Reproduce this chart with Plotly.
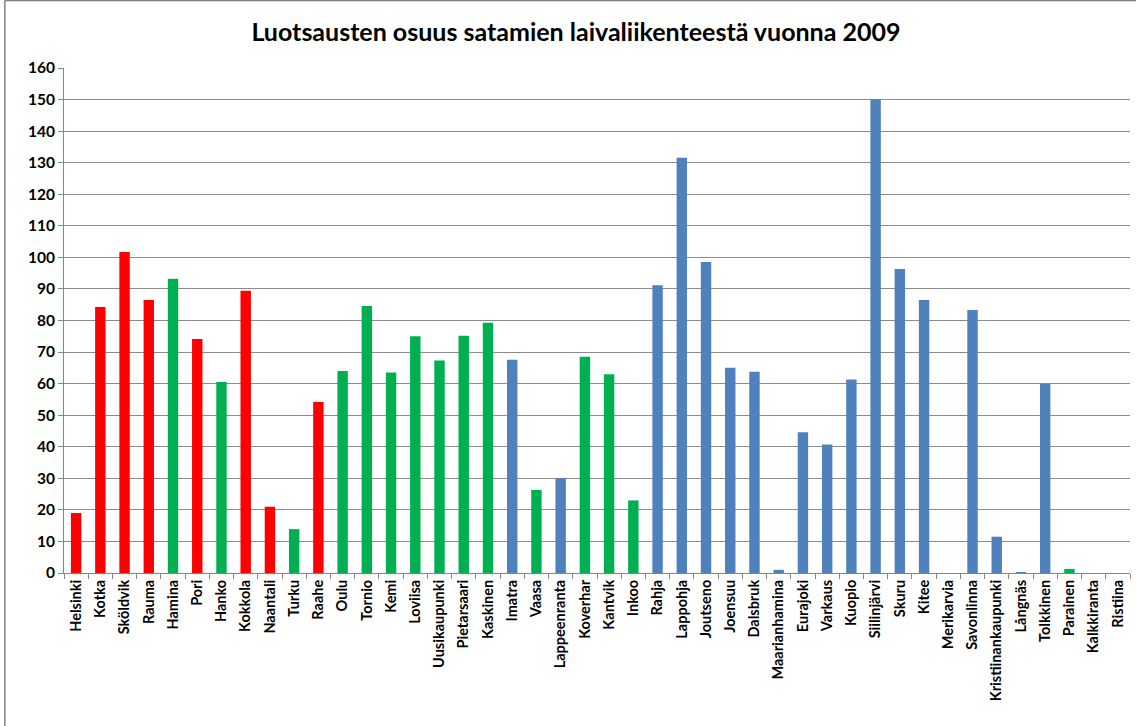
import plotly.graph_objects as go

# Satamat ja luotsausten osuus laivaliikenteestä (%)
satamat = [
    "Helsinki", "Kotka", "Sköldvik", "Rauma", "Hamina", "Pori", "Hanko", "Kokkola",
    "Naantali", "Turku", "Raahe", "Oulu", "Tornio", "Kemi", "Loviisa", "Uusikaupunki",
    "Pietarsaari", "Kaskinen", "Imatra", "Vaasa", "Lappeenranta", "Koverhar", "Kantvik",
    "Inkoo", "Rahja", "Lappohja", "Joutseno", "Joensuu", "Dalsbruk", "Maarianhamina",
    "Eurajoki", "Varkaus", "Kuopio", "Siilinjärvi", "Skuru", "Kitee", "Merikarvia",
    "Savonlinna", "Kristiinankaupunki", "Långnäs", "Tolkkinen", "Parainen",
    "Kalkkiranta", "Ristiina",
]
osuus = [
    19.0, 84.3, 101.7, 86.5, 93.2, 74.1, 60.5, 89.4,
    21.0, 13.9, 54.2, 64.0, 84.6, 63.5, 75.0, 67.3,
    75.2, 79.3, 67.6, 26.3, 30.0, 68.5, 63.0,
    23.0, 91.2, 131.6, 98.5, 65.0, 63.8, 1.0,
    44.6, 40.7, 61.3, 150.0, 96.3, 86.5, 0.0,
    83.3, 11.5, 0.3, 60.0, 1.3,
    0.0, 0.0,
]
# Satamaryhmä: r = punainen, g = vihreä, b = sininen
ryhma = [
    "r", "r", "r", "r", "g", "r", "g", "r",
    "r", "g", "r", "g", "g", "g", "g", "g",
    "g", "g", "b", "g", "b", "g", "g",
    "g", "b", "b", "b", "b", "b", "b",
    "b", "b", "b", "b", "b", "b", "b",
    "b", "b", "b", "b", "g",
    "b", "b",
]
y_ticks = list(range(0, 161, 10))

VARIT = {"r": "#FF0000", "g": "#00B050", "b": "#4F81BD"}
FONT = "Lato"

fig = go.Figure(
    go.Bar(
        x=satamat,
        y=osuus,
        marker=dict(color=[VARIT[k] for k in ryhma], line=dict(width=0)),
        hovertemplate="%{x}: %{y}<extra></extra>",
    )
)

fig.update_layout(
    width=1136,
    height=726,
    paper_bgcolor="white",
    plot_bgcolor="white",
    margin=dict(l=64, r=6, t=68, b=153),
    bargap=0.57,
    showlegend=False,
    title=dict(
        text="Luotsausten osuus satamien laivaliikenteestä vuonna 2009",
        x=0.507,
        xref="container",
        xanchor="center",
        y=0.955,
        yref="container",
        yanchor="middle",
        font=dict(family=FONT, size=25, color="black", weight="bold"),
    ),
    font=dict(family=FONT, color="black"),
    shapes=[
        dict(type="line", xref="paper", yref="paper", x0=-0.0555, x1=1.1,
             y0=1.1335, y1=1.1335, line=dict(color="#808080", width=1.5)),
        dict(type="line", xref="paper", yref="paper", x0=-0.0555, x1=-0.0555,
             y0=1.1335, y1=-0.31, line=dict(color="#808080", width=1.5)),
    ],
)

fig.update_xaxes(
    type="category",
    tickangle=-90,
    tickfont=dict(family=FONT, size=14.5, color="black", weight="bold"),
    showline=True,
    linecolor="#868686",
    linewidth=1,
    ticks="outside",
    tickson="boundaries",
    ticklen=5,
    tickcolor="#868686",
    showgrid=False,
)
fig.update_yaxes(
    range=[0, 160],
    tickvals=y_ticks,
    tickfont=dict(family=FONT, size=15.5, color="black", weight="bold"),
    showline=True,
    linecolor="#868686",
    linewidth=1,
    ticks="outside",
    ticklen=5,
    tickcolor="#868686",
    showgrid=True,
    gridcolor="#8C8C8C",
    gridwidth=1,
    zeroline=False,
)

fig.write_html("out.html")
